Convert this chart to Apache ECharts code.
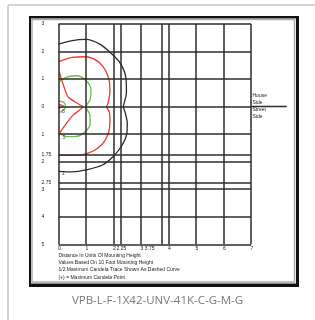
<!DOCTYPE html>
<html lang="en">
<head>
<meta charset="UTF-8">
<title>VPB-L-F-1X42-UNV-41K-C-G-M-G</title>
<script src="https://cdn.jsdelivr.net/npm/echarts@6/dist/echarts.min.js"></script>
<style>
  html, body { margin: 0; padding: 0; background: #fff; }
  #chart { width: 315px; height: 320px; }
</style>
</head>
<body>
<div id="chart"></div>
<script>
// grid positions (units of mounting height)
var xTicks = [0, 1, 2, 2.25, 3, 3.75, 4, 5, 6, 7];
var yTicks = [3, 2, 1, 0, -1, -1.75, -2, -2.75, -3, -4, -5];
var curbEnd = 8.3; // the 0 line runs past the grid to the House/Street note

// isofootcandle traces
var blackTrace = [[0, 2.27], [0.5, 2.4], [1, 2.44], [1.5, 2.27], [1.9, 1.95], [2.25, 1.57], [2.45, 1.05],
  [2.47, 0.5], [2.38, 0.1], [2.36, 0], [2.42, -0.2], [2.5, -0.6], [2.48, -1.0], [2.3, -1.42],
  [2.0, -1.8], [1.6, -2.12], [1.0, -2.3], [0.5, -2.37], [0, -2.35]];
var redTrace = [[0, 1.63], [0.5, 1.79], [1, 1.81], [1.5, 1.58], [1.8, 1.1], [1.87, 0.55], [1.8, 0.12],
  [1.75, 0], [1.85, -0.2], [1.87, -0.5], [1.8, -1.0], [1.5, -1.45], [1.0, -1.72], [0.5, -1.77], [0, -1.76]];
var redInner = [[0.03, 1.25], [0.24, 0.6], [0.36, 0.34], [0.78, 0.06], [0.88, 0], [0.54, -0.3],
  [0.24, -0.67], [0.04, -0.97]];
var redMark = [[0, 0.08], [0.18, 0.02], [0, -0.06]];
var greenTrace = [[0.03, 0.9], [0.3, 1.07], [0.66, 1.12], [1.0, 0.95], [1.18, 0.6], [1.15, 0.25],
  [1.0, 0], [1.14, -0.3], [1.15, -0.62], [0.96, -0.92], [0.66, -1.08], [0.3, -1.09], [0.05, -0.97]];
var greenInner = [[0, 0.2], [0.15, 0.18], [0.25, 0.05], [0.2, -0.12], [0.05, -0.2]];
var traceLabels = [[0.15, -0.2, '.5'], [0.18, -1.12, '.5'], [0.15, -2.43, '.1']];

var notes = ['Distance In Units Of Mounting Height', 'Values Based On 10 Foot Mounting Height',
  '1/2 Maximum Candela Trace Shown As Dashed Curve', '(+) = Maximum Candela Point'];
var sideWords = ['House', 'Side', 'Street', 'Side'];

var FONT = 'Liberation Sans';
var GRIDCOLOR = '#2b2b2b';
var chart = echarts.init(document.getElementById('chart'));

function trace(name, data, color) {
  return {
    name: name, type: 'line', data: data, smooth: 0.3, showSymbol: false, silent: true,
    lineStyle: { color: color, width: 1.3 }, z: 3
  };
}

var graphics = [
  { type: 'line', shape: { x1: 8, y1: 5, x2: 8, y2: 320 }, style: { stroke: '#d4d4d4', lineWidth: 2 } },
  { type: 'line', shape: { x1: 8, y1: 5, x2: 315, y2: 5 }, style: { stroke: '#d4d4d4', lineWidth: 2 } },
  { type: 'rect', shape: { x: 29, y: 16, width: 270, height: 271 }, style: { fill: '#111' } },
  { type: 'rect', shape: { x: 31, y: 18.5, width: 265, height: 265 }, style: { fill: '#fff' } },
  { type: 'rect', shape: { x: 32, y: 19.5, width: 262.5, height: 262.5 }, style: { fill: '#fff', stroke: '#aaa', lineWidth: 1.5 } },
  { type: 'text', left: 'center', top: 295, style: { text: 'VPB-L-F-1X42-UNV-41K-C-G-M-G', font: '11.5px "Open Sans"', fill: '#7a7a7a' } }
];
notes.forEach(function (t, i) {
  graphics.push({ type: 'text', x: 58.5, y: 255.3 + i * 7.3,
    style: { text: t, font: '5px "' + FONT + '"', fill: '#222', verticalAlign: 'middle' } });
});
sideWords.forEach(function (t, i) {
  graphics.push({ type: 'text', x: 252.5, y: 96 + i * 6.9 + (i > 1 ? 0.3 : 0),
    style: { text: t, font: '5px "' + FONT + '"', fill: '#222', verticalAlign: 'middle' } });
});

var option = {
  animation: false,
  backgroundColor: '#fff',
  graphic: graphics,
  grid: { left: 58.5, right: 64, top: 24, bottom: 75.7 },
  xAxis: {
    type: 'value', min: 0, max: 7,
    axisLine: { show: false }, axisTick: { show: false }, splitLine: { show: false },
    axisLabel: {
      customValues: xTicks, fontSize: 5, fontFamily: FONT, color: '#222', align: 'center', margin: 2,
      padding: [0, 0, 0, 2], hideOverlap: false,
      // the 3.75 label sits left of its line in the original
      formatter: function (v) { return v === 3.75 ? '{shift|3.75}' : String(v); },
      rich: { shift: { fontSize: 5, fontFamily: FONT, color: '#222', padding: [0, 26, 0, 0] } }
    }
  },
  yAxis: {
    type: 'value', min: -5, max: 3,
    axisLine: { show: false }, axisTick: { show: false }, splitLine: { show: false },
    axisLabel: { customValues: yTicks, fontSize: 5, fontFamily: FONT, color: '#222', align: 'left', margin: 17,
      hideOverlap: false, formatter: function (v) { return String(Math.abs(v)); } }
  },
  series: [
    {
      type: 'line', data: [], silent: true, z: 2,
      markLine: {
        silent: true, symbol: ['none', 'none'], label: { show: false },
        lineStyle: { color: GRIDCOLOR, width: 1.5, type: 'solid' },
        data: xTicks.map(function (v) { return { xAxis: v }; })
          .concat(yTicks.map(function (v) { return { yAxis: v }; }))
      }
    },
    trace('black', blackTrace, '#2a2a2a'),
    trace('red', redTrace, '#ee3a2f'),
    trace('redInner', redInner, '#ee3a2f'),
    trace('redMark', redMark, '#ee3a2f'),
    trace('green', greenTrace, '#6dbb4f'),
    trace('greenInner', greenInner, '#6dbb4f'),
    {
      type: 'scatter', symbolSize: 0, silent: true, z: 4,
      data: traceLabels.map(function (d) { return { value: [d[0], d[1]], name: d[2] }; }),
      label: { show: true, position: 'inside', formatter: '{b}', fontSize: 5, fontFamily: FONT, color: '#222' }
    }
  ]
};
chart.setOption(option);

// extend the 0 line out to the House/Street note, positioned through the axes
var a = chart.convertToPixel({ gridIndex: 0 }, [7, 0]);
var b = chart.convertToPixel({ gridIndex: 0 }, [curbEnd, 0]);
graphics.push({ type: 'line', z: 5, shape: { x1: a[0], y1: a[1], x2: b[0], y2: b[1] },
  style: { stroke: GRIDCOLOR, lineWidth: 1.5 } });
chart.setOption({ graphic: graphics });
</script>
</body>
</html>
